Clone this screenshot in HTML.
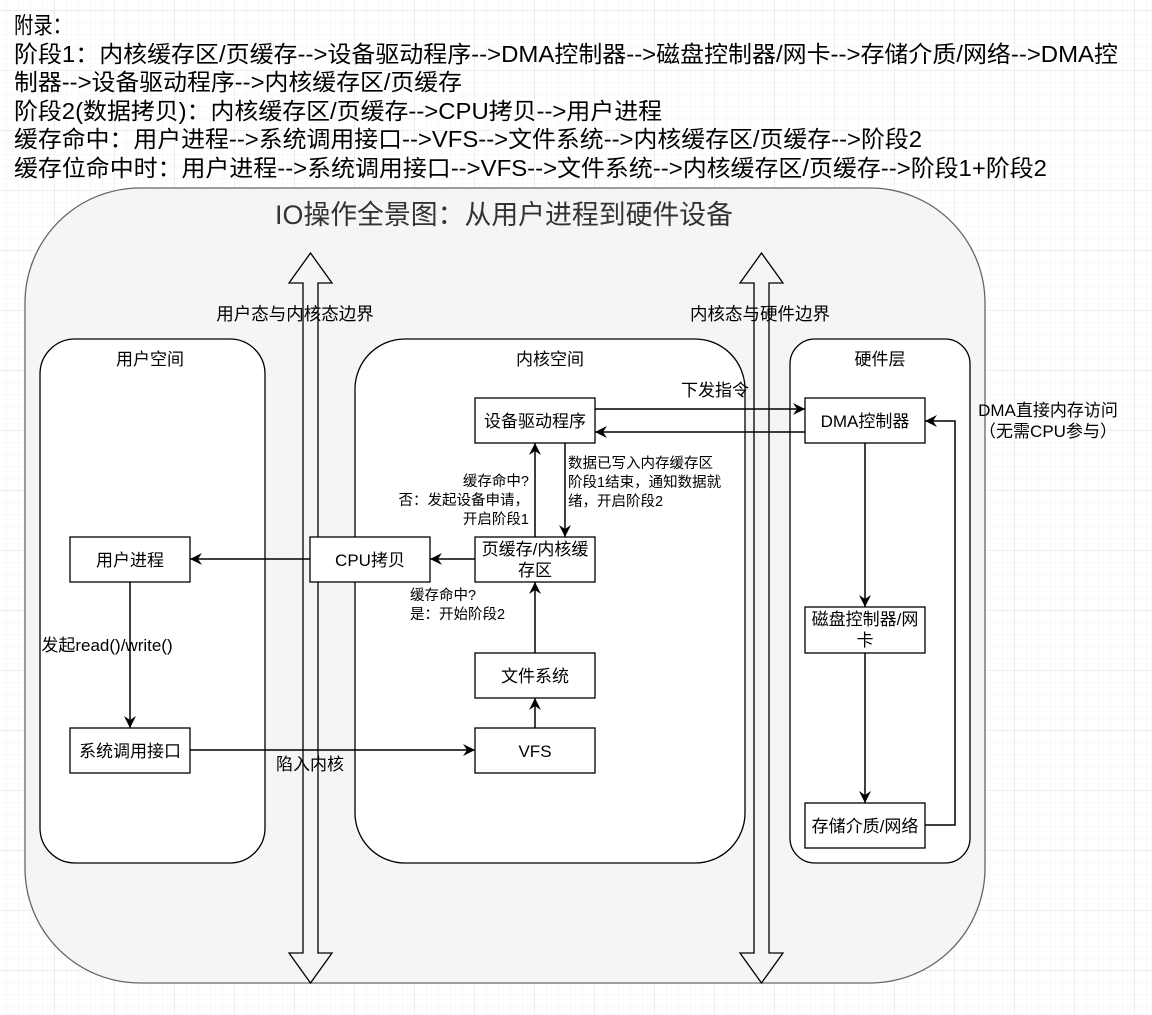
<!DOCTYPE html>
<html><head><meta charset="utf-8"><style>
html,body{margin:0;padding:0;background:#fff;}
svg{display:block;}
text{font-family:"Liberation Sans","Noto Sans CJK SC",sans-serif;fill:#000;}
</style></head><body>
<svg width="1152" height="1015" viewBox="0 0 1152 1015" xmlns="http://www.w3.org/2000/svg">
<defs>
<pattern id="minor" width="12" height="12" patternUnits="userSpaceOnUse" x="7" y="11">
<path d="M12 0V12M0 12H12" fill="none" stroke="#f0f0f0" stroke-width="1"/></pattern>
<pattern id="major" width="60" height="60" patternUnits="userSpaceOnUse" x="-5" y="-49">
<path d="M60 0V60M0 60H60" fill="none" stroke="#dedede" stroke-width="1"/></pattern>
<marker id="ah" markerWidth="14" markerHeight="14" refX="12" refY="7" orient="auto" markerUnits="userSpaceOnUse">
<path d="M0,1 L12,7 L0,13 L4,7 Z" fill="#000"/></marker>
</defs>
<rect width="1152" height="1015" fill="url(#minor)"/>
<rect width="1152" height="1015" fill="url(#major)"/>

<g font-size="23" lengthAdjust="spacingAndGlyphs">
<text x="14" y="33" textLength="58" lengthAdjust="spacingAndGlyphs">附录：</text>
<text x="14" y="62" textLength="1104" lengthAdjust="spacingAndGlyphs">阶段1：内核缓存区/页缓存--&gt;设备驱动程序--&gt;DMA控制器--&gt;磁盘控制器/网卡--&gt;存储介质/网络--&gt;DMA控</text>
<text x="14" y="90" textLength="448" lengthAdjust="spacingAndGlyphs">制器--&gt;设备驱动程序--&gt;内核缓存区/页缓存</text>
<text x="14" y="119" textLength="648" lengthAdjust="spacingAndGlyphs">阶段2(数据拷贝)：内核缓存区/页缓存--&gt;CPU拷贝--&gt;用户进程</text>
<text x="14" y="147" textLength="908" lengthAdjust="spacingAndGlyphs">缓存命中：用户进程--&gt;系统调用接口--&gt;VFS--&gt;文件系统--&gt;内核缓存区/页缓存--&gt;阶段2</text>
<text x="14" y="176" textLength="1033" lengthAdjust="spacingAndGlyphs">缓存位命中时：用户进程--&gt;系统调用接口--&gt;VFS--&gt;文件系统--&gt;内核缓存区/页缓存--&gt;阶段1+阶段2</text>
</g>

<rect x="25" y="188" width="960" height="795" rx="115" ry="115" fill="#f5f5f5" stroke="#666" stroke-width="1.3"/>
<text x="275" y="224" font-size="27" textLength="458" lengthAdjust="spacingAndGlyphs" style="fill:#333">IO操作全景图：从用户进程到硬件设备</text>

<rect x="40" y="339" width="225" height="524" rx="35" fill="#fff" stroke="#000" stroke-width="1.3"/>
<rect x="355" y="339" width="390" height="524" rx="50" fill="#fff" stroke="#000" stroke-width="1.3"/>
<rect x="790" y="339" width="180" height="524" rx="25" fill="#fff" stroke="#000" stroke-width="1.3"/>
<g font-size="17" text-anchor="middle">
<text x="150" y="365">用户空间</text>
<text x="550" y="365">内核空间</text>
<text x="880" y="365">硬件层</text>
</g>

<path d="M310.5,253 L332,283 L318,283 L318,953 L332,953 L310.5,983 L289,953 L303,953 L303,283 L289,283 Z" fill="none" stroke="#000" stroke-width="1.3"/>
<path d="M761.5,253 L783,283 L769,283 L769,953 L783,953 L761.5,983 L740,953 L754,953 L754,283 L740,283 Z" fill="none" stroke="#000" stroke-width="1.3"/>
<g font-size="17.5">
<text x="295" y="320" text-anchor="middle">用户态与内核态边界</text>
<text x="760" y="320" text-anchor="middle">内核态与硬件边界</text>
</g>

<g stroke="#000" stroke-width="1.5" fill="none" marker-end="url(#ah)">
<path d="M595,409 H805"/>
<path d="M805,432 H595"/>
<path d="M865,443 V607"/>
<path d="M865,653 V803"/>
<path d="M925,825 H955 V421 H925"/>
<path d="M565,443 V537"/>
<path d="M535,537 V443"/>
<path d="M475,559 H430"/>
<path d="M310,559 H190"/>
<path d="M130,582 V728"/>
<path d="M190,750 H475"/>
<path d="M535,728 V698"/>
<path d="M535,653 V582"/>
</g>

<g fill="#fff" stroke="#000" stroke-width="1.3">
<rect x="475" y="398" width="120" height="45"/>
<rect x="475" y="537" width="120" height="45"/>
<rect x="310" y="537" width="120" height="45"/>
<rect x="70" y="537" width="120" height="45"/>
<rect x="70" y="728" width="120" height="45"/>
<rect x="475" y="728" width="120" height="45"/>
<rect x="475" y="653" width="120" height="45"/>
<rect x="805" y="398" width="120" height="45"/>
<rect x="805" y="607" width="120" height="46"/>
<rect x="805" y="803" width="120" height="45"/>
</g>
<g font-size="17" text-anchor="middle">
<text x="535" y="427">设备驱动程序</text>
<text x="535" y="555">页缓存/内核缓</text>
<text x="535" y="576">存区</text>
<text x="370" y="566">CPU拷贝</text>
<text x="130" y="566">用户进程</text>
<text x="130" y="757">系统调用接口</text>
<text x="535" y="757">VFS</text>
<text x="535" y="682">文件系统</text>
<text x="865" y="427">DMA控制器</text>
<text x="865" y="625">磁盘控制器/网</text>
<text x="865" y="646">卡</text>
<text x="865" y="832">存储介质/网络</text>
</g>

<g font-size="17">
<text x="715" y="396" text-anchor="middle">下发指令</text>
<text x="1048" y="416" text-anchor="middle">DMA直接内存访问</text>
<text x="1048" y="437" text-anchor="middle">（无需CPU参与）</text>
<text x="107" y="651" text-anchor="middle">发起read()/write()</text>
<text x="310" y="770" text-anchor="middle">陷入内核</text>
</g>
<g font-size="14.5">
<text x="529" y="486" text-anchor="end">缓存命中?</text>
<text x="529" y="505" text-anchor="end">否：发起设备申请，</text>
<text x="529" y="524" text-anchor="end">开启阶段1</text>
<text x="568" y="468">数据已写入内存缓存区</text>
<text x="568" y="487">阶段1结束，通知数据就</text>
<text x="568" y="506">绪，开启阶段2</text>
<text x="410" y="600">缓存命中?</text>
<text x="410" y="619">是：开始阶段2</text>
</g>
</svg>
</body></html>
